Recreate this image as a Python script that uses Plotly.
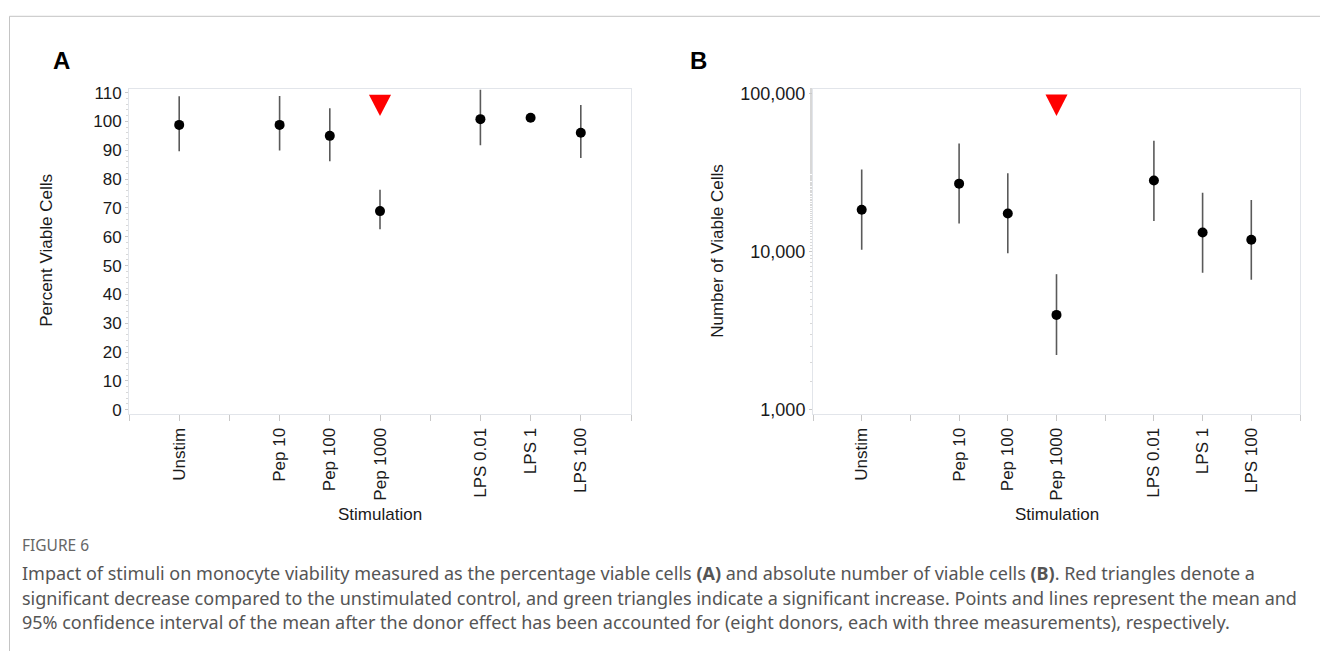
import plotly.graph_objects as go

# ---------------- data ----------------
categories = ["Unstim", "Pep 10", "Pep 100", "Pep 1000", "LPS 0.01", "LPS 1", "LPS 100"]
groups = ["ctrl", "pep", "pep", "pep", "lps", "lps", "lps"]

pct_mean = [98.8, 98.8, 95.0, 68.9, 100.8, 101.3, 96.1]
pct_low = [89.7, 89.9, 86.2, 62.6, 91.7, 100.6, 87.3]
pct_high = [108.7, 108.8, 104.6, 76.3, 111.0, 102.0, 105.7]

cnt_mean = [18400, 26900, 17400, 3980, 28200, 13200, 11900]
cnt_low = [10260, 15070, 9750, 2220, 15640, 7350, 6640]
cnt_high = [33100, 48300, 31300, 7200, 50200, 23600, 21200]

significance = ["", "", "", "down", "", "", ""]

pct_ticks = list(range(0, 111, 10))
cnt_ticks = [1000, 10000, 100000]

caption_title = "FIGURE 6"
caption_lines = [
    "Impact of stimuli on monocyte viability measured as the percentage viable cells <b>(A)</b> and absolute number of viable cells <b>(B)</b>. Red triangles denote a",
    "significant decrease compared to the unstimulated control, and green triangles indicate a significant increase. Points and lines represent the mean and",
    "95% confidence interval of the mean after the donor effect has been accounted for (eight donors, each with three measurements), respectively.",
]

# ---------------- layout helpers ----------------
W, H = 1320, 657
FONT = "Liberation Sans, Arial, sans-serif"
CAP_FONT = "Noto Sans, Open Sans, sans-serif"


def px(x):
    return x / W


def py(y):
    return 1 - y / H


# slot positions: one empty slot between groups
xpos = []
slot = 0
prev = None
for g in groups:
    slot += 1
    if prev is not None and g != prev:
        slot += 1
    xpos.append(slot)
    prev = g
n_slots = slot + 1
tickvals = list(range(0, n_slots + 1))
ticktext = [categories[xpos.index(v)] if v in xpos else "" for v in tickvals]

FRAME = "#e2e5ea"
TICKC = "#c9c9c9"

fig = go.Figure()


def add_panel(xa, ya, mean, low, high, tri_top, tri_tip, half_w):
    fig.add_trace(go.Scatter(
        x=xpos, y=mean, mode="markers", xaxis=xa, yaxis=ya,
        marker=dict(color="black", size=10),
        error_y=dict(type="data", symmetric=False,
                     array=[h - m for h, m in zip(high, mean)],
                     arrayminus=[m - l for m, l in zip(mean, low)],
                     color="#5a5a5a", thickness=1.6, width=0),
        showlegend=False, hoverinfo="skip"))
    for xi, s in zip(xpos, significance):
        if s == "down":
            fig.add_trace(go.Scatter(
                x=[xi - half_w, xi + half_w, xi, xi - half_w],
                y=[tri_top, tri_top, tri_tip, tri_top],
                mode="lines", fill="toself", fillcolor="#ff0000",
                line=dict(width=0, color="#ff0000"),
                xaxis=xa, yaxis=ya, showlegend=False, hoverinfo="skip"))


add_panel("x", "y", pct_mean, pct_low, pct_high, 109.3, 101.9, 0.22)
add_panel("x2", "y2", cnt_mean, cnt_low, cnt_high, 10 ** 4.994, 10 ** 4.857, 0.226)

ydom = [py(416), py(85)]

common_x = dict(
    tickmode="array", tickvals=tickvals, ticktext=ticktext, tickangle=-90,
    range=[0, n_slots], showgrid=False, zeroline=False,
    ticks="outside", ticklen=6, tickcolor=TICKC, tickwidth=1,
    showline=True, linecolor=FRAME, linewidth=1, mirror=True,
    tickfont=dict(family=FONT, size=17, color="#1a1a1a"),
    fixedrange=True,
)

fig.update_layout(
    width=W, height=H, autosize=False,
    margin=dict(l=0, r=0, t=0, b=0),
    paper_bgcolor="white", plot_bgcolor="white",
    xaxis=dict(domain=[px(129), px(631)], anchor="y", **common_x),
    xaxis2=dict(domain=[px(813), px(1300)], anchor="y2", **common_x),
    yaxis=dict(domain=ydom, anchor="x", range=[-1.5, 111.4],
               tickmode="array", tickvals=pct_ticks,
               ticks="outside", ticklen=3, tickcolor=TICKC,
               minor=dict(ticks="outside", ticklen=2, dtick=2, tickcolor="#d8d8d8"),
               showgrid=False, zeroline=False,
               showline=True, linecolor=FRAME, mirror=True,
               tickfont=dict(family=FONT, size=17, color="#1a1a1a")),
    yaxis2=dict(domain=ydom, anchor="x2", type="log", range=[2.973, 5.031],
                tickmode="array", tickvals=cnt_ticks,
                ticktext=[f"{v:,}" for v in cnt_ticks],
                ticks="outside", ticklen=3, tickcolor=TICKC,
                minor=dict(ticks="outside", ticklen=2, tickcolor="#d8d8d8"),
                showgrid=False, zeroline=False,
                showline=True, linecolor=FRAME, mirror=True,
                tickfont=dict(family=FONT, size=18, color="#1a1a1a")),
)

ann = []
ann.append(dict(text="<b>A</b>", x=px(61), y=py(56), font=dict(family=FONT, size=24, color="black")))
ann.append(dict(text="<b>B</b>", x=px(698), y=py(56), font=dict(family=FONT, size=24, color="black")))
ann.append(dict(text="Percent Viable Cells", x=px(47), y=py(250), textangle=-90,
                font=dict(family=FONT, size=17, color="#1a1a1a")))
ann.append(dict(text="Number of Viable Cells", x=px(718), y=py(250), textangle=-90,
                font=dict(family=FONT, size=17, color="#1a1a1a")))
ann.append(dict(text="Stimulation", x=px(380), y=py(518), font=dict(family=FONT, size=17, color="#1a1a1a")))
ann.append(dict(text="Stimulation", x=px(1057), y=py(518), font=dict(family=FONT, size=17, color="#1a1a1a")))
ann.append(dict(text=caption_title, x=px(20), y=py(549), xanchor="left",
                font=dict(family=CAP_FONT, size=15.5, color="#666666")))
for i, line in enumerate(caption_lines):
    ann.append(dict(text=line, x=px(20), y=py(578 + 25 * i), xanchor="left",
                    font=dict(family=CAP_FONT, size=18, color="#555555")))
for a in ann:
    a.setdefault("xanchor", "center")
    a.update(xref="paper", yref="paper", yanchor="middle", showarrow=False)
fig.update_layout(annotations=ann)

# outer figure border (top and left rules)
fig.add_shape(type="line", xref="paper", yref="paper", x0=px(9.5), x1=1, y0=py(11.5), y1=py(11.5),
              line=dict(color="#c4c4c4", width=1))
fig.add_shape(type="line", xref="paper", yref="paper", x0=px(9.5), x1=px(9.5), y0=py(11.5), y1=0,
              line=dict(color="#c4c4c4", width=1))

fig.write_html("out.html", config={"displayModeBar": False},
               post_script="document.body.style.margin='0';")
